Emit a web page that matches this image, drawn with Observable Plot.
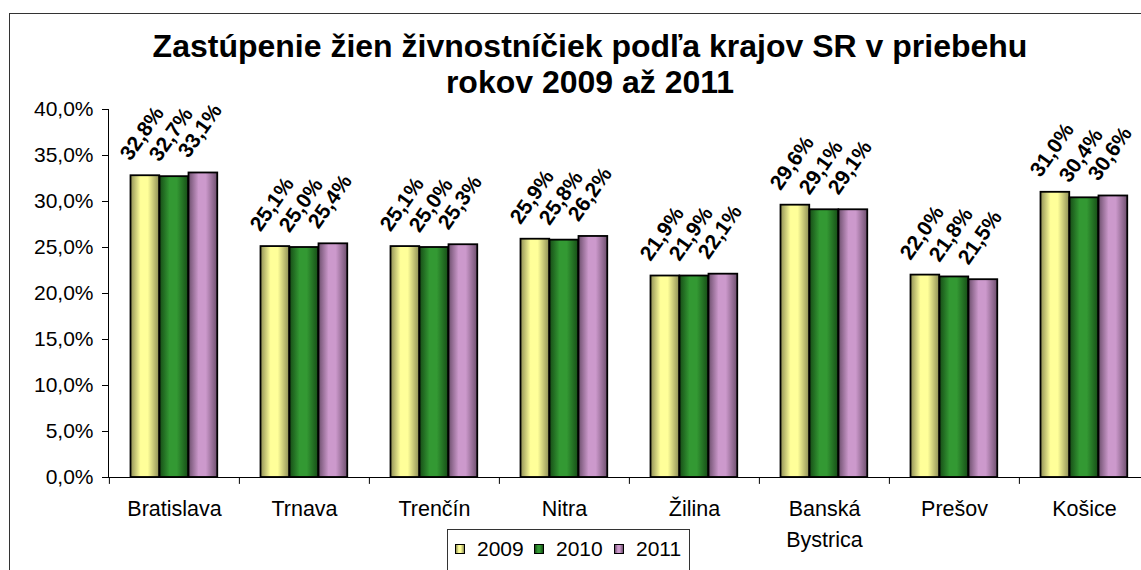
<!DOCTYPE html>
<html>
<head>
<meta charset="utf-8">
<script src="https://cdn.jsdelivr.net/npm/d3@7"></script>
<script src="https://cdn.jsdelivr.net/npm/@observablehq/plot@0.6"></script>
<style>
  html, body { margin: 0; padding: 0; background: #fff; overflow: hidden; }
  #wrap { position: relative; width: 1141px; height: 570px; overflow: hidden; font-family: "Liberation Sans", Arial, sans-serif; }
  #border { position: absolute; left: 9px; top: 13px; width: 1200px; height: 600px; border: 1px solid #333; box-sizing: border-box; }
  #title { position: absolute; left: 0; top: 28px; width: 1180px; text-align: center; font-weight: bold; font-size: 32px; line-height: 36px; color: #000; }
  #chart { position: absolute; left: 0; top: 0; width: 1160px; }
  #chart svg { max-width: none !important; }
  #legend { position: absolute; left: 447px; top: 529px; width: 243px; height: 60px; border: 1px solid #333; box-sizing: border-box; background: #fff; font-size: 21px; }
  #legend .item { position: absolute; top: 7px; display: flex; align-items: center; }
  #legend .sw { width: 8px; height: 8px; border: 1px solid #000; margin-right: 12px; }
</style>
</head>
<body>
<div id="wrap">
  <div id="border"></div>
  <div id="chart"></div>
  <div id="title">Zastúpenie žien živnostníčiek podľa krajov SR v priebehu<br>rokov 2009 až 2011</div>
  <div id="legend"></div>
</div>
<script>
// ---- data ----
const regions = ["Bratislava", "Trnava", "Trenčín", "Nitra", "Žilina", "Banská Bystrica", "Prešov", "Košice"];
const regionLabels = ["Bratislava", "Trnava", "Trenčín", "Nitra", "Žilina", "Banská\nBystrica", "Prešov", "Košice"];
const years = ["2009", "2010", "2011"];
const values2009 = [32.8, 25.1, 25.1, 25.9, 21.9, 29.6, 22.0, 31.0];
const values2010 = [32.7, 25.0, 25.0, 25.8, 21.9, 29.1, 21.8, 30.4];
const values2011 = [33.1, 25.4, 25.3, 26.2, 22.1, 29.1, 21.5, 30.6];
const yTicks = [0, 5, 10, 15, 20, 25, 30, 35, 40];

// ---- styles ----
const colors = {"2009": "#FFFF99", "2010": "#339933", "2011": "#CC99CC"};
const darks  = {"2009": "#8f8f55", "2010": "#164d16", "2011": "#6e4f6e"};
const slot = {"2009": 0, "2010": 1, "2011": 2};

const series = {"2009": values2009, "2010": values2010, "2011": values2011};
const rows = [];
years.forEach(y => regions.forEach((r, i) => rows.push({region: r, year: y, value: series[y][i]})));
const fmt = v => v.toFixed(1).replace(".", ",") + "%";

const band = 1042 / regions.length;
const gap = 21.5, bw = 29;
const marks = [];
years.forEach(y => {
  const k = slot[y];
  const left = gap + k * bw, right = band - left - bw;
  marks.push(Plot.barY(rows.filter(d => d.year === y), {
    x: "region", y: "value", fill: `url(#g${y})`, stroke: "#000", strokeWidth: 1.8,
    insetLeft: left, insetRight: right
  }));
  marks.push(Plot.text(rows.filter(d => d.year === y), {
    x: "region", y: "value", text: d => fmt(d.value),
    dx: (k - 1) * bw - 15, dy: -14, rotate: -55, textAnchor: "start", lineAnchor: "bottom",
    fontWeight: "bold", fontSize: 21, fill: "#000"
  }));
});

const chart = Plot.plot({
  width: 1160, height: 570,
  marginLeft: 108, marginRight: 10, marginTop: 109, marginBottom: 93,
  style: {fontFamily: "'Liberation Sans', Arial, sans-serif", fontSize: "21px", color: "#000", background: "transparent", maxWidth: "none"},
  x: {domain: regions, padding: 0, axis: null},
  y: {domain: [0, 40], ticks: yTicks, tickFormat: fmt, tickSize: 6, tickPadding: 9, line: true, label: null},
  marks: [
    ...marks,
    Plot.ruleY([0], {stroke: "#000", strokeWidth: 1.2}),
    Plot.ruleX(regions, {x: d => d, y1: 0, y2: -0.75, dx: -band / 2, stroke: "#000"}),
    Plot.ruleX([regions[regions.length - 1]], {x: d => d, y1: 0, y2: -0.75, dx: band / 2, stroke: "#000"}),
    Plot.text(regions, {x: d => d, y: 0, text: (d, i) => regionLabels[i], dy: 17, lineAnchor: "top", fontSize: 21.5, fill: "#000", lineHeight: 1.44})
  ]
});

const defs = d3.select(chart).insert("defs", ":first-child");
years.forEach(y => {
  const g = defs.append("linearGradient").attr("id", `g${y}`).attr("x1", 0).attr("x2", 1).attr("y1", 0).attr("y2", 0);
  g.append("stop").attr("offset", "0%").attr("stop-color", darks[y]);
  g.append("stop").attr("offset", "35%").attr("stop-color", colors[y]);
  g.append("stop").attr("offset", "60%").attr("stop-color", colors[y]);
  g.append("stop").attr("offset", "100%").attr("stop-color", darks[y]);
});
document.getElementById("chart").appendChild(chart);

const legend = document.getElementById("legend");
const lx = [7, 86, 166];
years.forEach((y, i) => {
  const it = document.createElement("div");
  it.className = "item";
  it.style.left = lx[i] + "px";
  const sw = document.createElement("div");
  sw.className = "sw";
  sw.style.background = `linear-gradient(to right, ${darks[y]}, ${colors[y]} 35%, ${colors[y]} 60%, ${darks[y]})`;
  const t = document.createElement("span");
  t.textContent = y;
  it.appendChild(sw); it.appendChild(t);
  legend.appendChild(it);
});
</script>
</body>
</html>
